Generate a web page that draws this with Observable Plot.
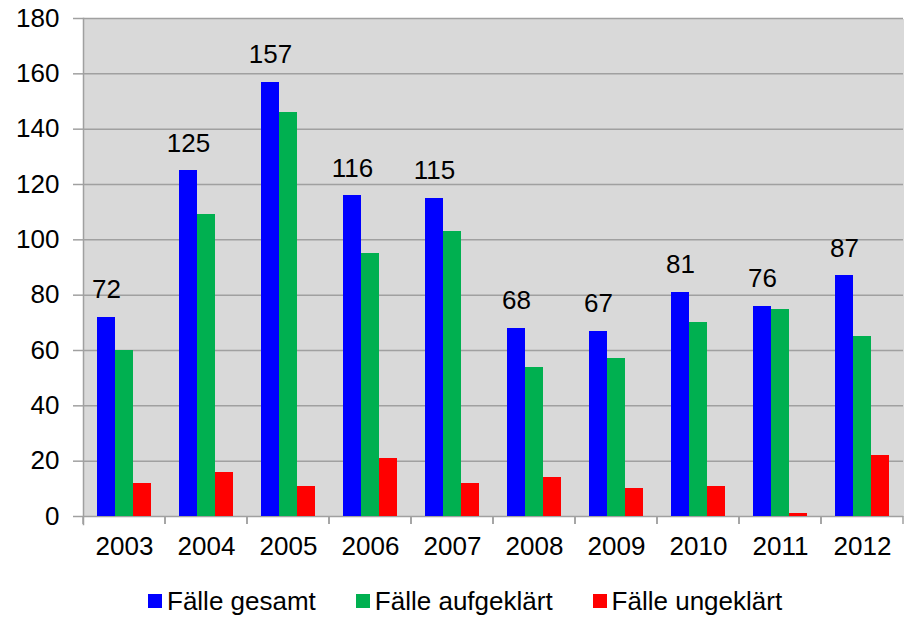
<!DOCTYPE html>
<html>
<head>
<meta charset="utf-8">
<script src="https://cdn.jsdelivr.net/npm/d3@7"></script>
<script src="https://cdn.jsdelivr.net/npm/@observablehq/plot@0.6"></script>
<style>
  html, body { margin: 0; padding: 0; background: #fff; }
  body { font-family: "Liberation Sans", Arial, sans-serif; }
  #legend { display: flex; align-items: center; padding-left: 148px; margin-top: 16px; height: 30px; font-size: 26px; color: #000; }
  .item { display: flex; align-items: center; margin-right: 40px; }
  .sw { width: 14px; height: 14px; margin-right: 5px; }
</style>
</head>
<body>
<div id="chart"></div>
<div id="legend"></div>
<script>
const years = ["2003","2004","2005","2006","2007","2008","2009","2010","2011","2012"];
const gesamt = [72,125,157,116,115,68,67,81,76,87];
const aufgeklaert = [60,109,146,95,103,54,57,70,75,65];
const ungeklaert = [12,16,11,21,12,14,10,11,1,22];
const seriesNames = ["Fälle gesamt","Fälle aufgeklärt","Fälle ungeklärt"];
const seriesColors = ["#0000ff","#00b050","#ff0000"];
const yTicks = [0,20,40,60,80,100,120,140,160,180];

const seriesValues = [gesamt, aufgeklaert, ungeklaert];
const data = years.flatMap((yr, i) => seriesNames.map((s, k) => ({year: yr, series: s, value: seriesValues[k][i]})));
const totals = data.filter(d => d.series === seriesNames[0]);

const gray = "#a0a0a0";

const boundaryTicks = (index, scales) => {
  const [x0, x1] = scales.x.range();
  const y0 = scales.y(0);
  const g = d3.create("svg:g").attr("stroke", gray).attr("stroke-width", 1.5);
  g.append("line").attr("x1", x0).attr("x2", x0).attr("y1", y0).attr("y2", y0 + 8);
  g.append("line").attr("x1", x1).attr("x2", x1).attr("y1", y0).attr("y2", y0 + 8);
  return g.node();
};

const chart = Plot.plot({
  width: 907,
  height: 570,
  marginTop: 18,
  marginLeft: 83,
  marginRight: 4,
  marginBottom: 54,
  style: {fontFamily: "'Liberation Sans', Arial, sans-serif", fontSize: "26px", color: "#000", background: "#fff", overflow: "visible"},
  fx: {domain: years, padding: 0, label: null},
  x: {domain: seriesNames, paddingInner: 0, paddingOuter: 0.74, axis: null},
  y: {domain: [0, 180], label: null},
  color: {domain: seriesNames, range: seriesColors},
  marks: [
    Plot.frame({fill: "#d9d9d9", shapeRendering: "crispEdges"}),
    Plot.ruleY(yTicks, {stroke: gray, strokeWidth: 1.5}),
    Plot.barY(data, {fx: "year", x: "series", y: "value", fill: "series", shapeRendering: "crispEdges"}),
    Plot.text(totals, {fx: "year", x: "series", y: "value", text: d => String(d.value), lineAnchor: "bottom", dy: -19, fontSize: 26, fill: "#000"}),
    Plot.axisY({ticks: yTicks, tickSize: 10, tickPadding: 14, stroke: gray, strokeWidth: 1.5, label: null, fontSize: 26, fill: "#000"}),
    Plot.frame({anchor: "left", facetAnchor: "left", stroke: gray, strokeWidth: 1.5, insetBottom: -8}),
    boundaryTicks,
    Plot.axisFx({anchor: "bottom", tickSize: 0, tickPadding: 20, label: null, fontSize: 26, fill: "#000"})
  ]
});
document.getElementById("chart").appendChild(chart);

const legend = d3.select("#legend");
seriesNames.forEach((s, k) => {
  const it = legend.append("div").attr("class", "item");
  it.append("div").attr("class", "sw").style("background", seriesColors[k]);
  it.append("span").text(s);
});
</script>
</body>
</html>
